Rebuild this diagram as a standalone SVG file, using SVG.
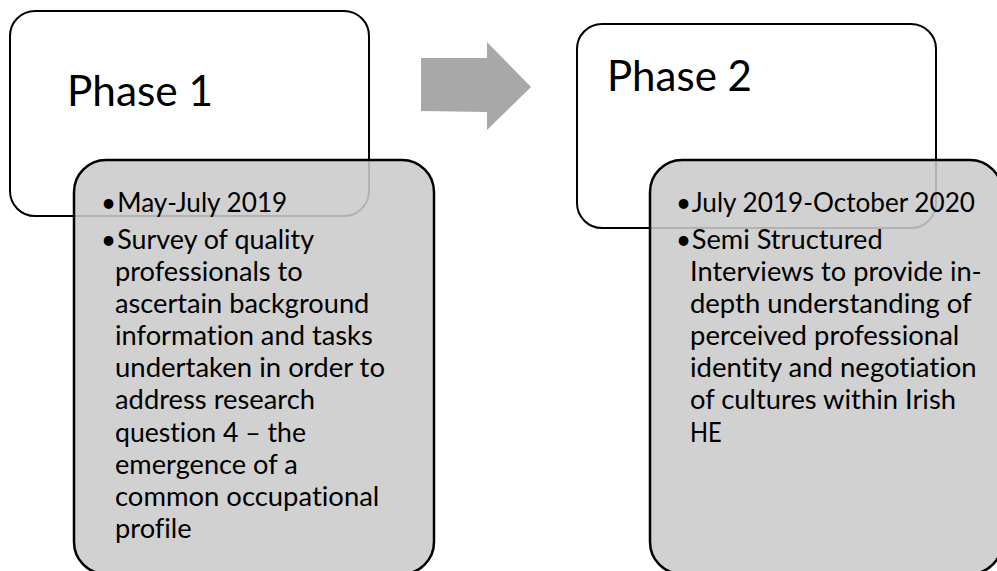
<svg xmlns="http://www.w3.org/2000/svg" width="997" height="571" viewBox="0 0 997 571">
<style>
.title{font-family:Lato,"Open Sans","Liberation Sans",sans-serif;font-size:42px;fill:#000;font-variant-ligatures:none}
.body{font-family:Lato,"Open Sans","Liberation Sans",sans-serif;font-size:26px;fill:#000;font-variant-ligatures:none}
.head{fill:#fff;stroke:#000;stroke-width:2}
.detail{fill:#cbcbcb;fill-opacity:0.88;stroke:#000;stroke-width:2.5}
.arrow{fill:#a8a8a8}
</style>
<rect width="997" height="571" fill="#fff"/>
<g id="phase1">
<rect class="head" x="10" y="11" width="359" height="205" rx="25" ry="25"/>
<text class="title" x="67" y="106" textLength="146" lengthAdjust="spacingAndGlyphs">Phase 1</text>
</g>
<g id="phase1-details">
<rect class="detail" x="74" y="160" width="360" height="414" rx="32" ry="32"/>
<text class="body" x="101" y="211.7">•</text>
<text class="body" x="117.3" y="211.7" textLength="170" lengthAdjust="spacingAndGlyphs">May-July 2019</text>
<text class="body" x="101" y="249.3">•</text>
<text class="body" x="117.3" y="249.3" textLength="196.7" lengthAdjust="spacingAndGlyphs">Survey of quality</text>
<text class="body" x="115" y="280.5" textLength="187.7" lengthAdjust="spacingAndGlyphs">professionals to</text>
<text class="body" x="115" y="312.7" textLength="254.3" lengthAdjust="spacingAndGlyphs">ascertain background</text>
<text class="body" x="115" y="345" textLength="257.7" lengthAdjust="spacingAndGlyphs">information and tasks</text>
<text class="body" x="115" y="377.3" textLength="270" lengthAdjust="spacingAndGlyphs">undertaken in order to</text>
<text class="body" x="115" y="409.3" textLength="200" lengthAdjust="spacingAndGlyphs">address research</text>
<text class="body" x="115" y="441.7" textLength="191" lengthAdjust="spacingAndGlyphs">question 4 – the</text>
<text class="body" x="115" y="474" textLength="182.7" lengthAdjust="spacingAndGlyphs">emergence of a</text>
<text class="body" x="115" y="506" textLength="264.3" lengthAdjust="spacingAndGlyphs">common occupational</text>
<text class="body" x="115" y="538.3" textLength="76.7" lengthAdjust="spacingAndGlyphs">profile</text>
</g>
<g id="phase2">
<rect class="head" x="577" y="24" width="359" height="204" rx="25" ry="25"/>
<text class="title" x="607" y="91" textLength="145" lengthAdjust="spacingAndGlyphs">Phase 2</text>
</g>
<g id="phase2-details">
<rect class="detail" x="650" y="160" width="352" height="414" rx="32" ry="32"/>
<text class="body" x="676" y="211.7">•</text>
<text class="body" x="691.7" y="211.7" textLength="283.3" lengthAdjust="spacingAndGlyphs">July 2019-October 2020</text>
<text class="body" x="676" y="249.3">•</text>
<text class="body" x="691.7" y="249.3" textLength="191" lengthAdjust="spacingAndGlyphs">Semi Structured</text>
<text class="body" x="690" y="280.5" textLength="291.7" lengthAdjust="spacingAndGlyphs">Interviews to provide in-</text>
<text class="body" x="690" y="312.7" textLength="281.7" lengthAdjust="spacingAndGlyphs">depth understanding of</text>
<text class="body" x="690" y="345" textLength="269.3" lengthAdjust="spacingAndGlyphs">perceived professional</text>
<text class="body" x="690" y="377.3" textLength="286.7" lengthAdjust="spacingAndGlyphs">identity and negotiation</text>
<text class="body" x="690" y="409.3" textLength="266" lengthAdjust="spacingAndGlyphs">of cultures within Irish</text>
<text class="body" x="690" y="441.7" textLength="31.7" lengthAdjust="spacingAndGlyphs">HE</text>
</g>
<g id="connectors">
<polygon class="arrow" points="421,58 487,58 487,42 531,87 487,130 487,112 421,111"/>
</g>
</svg>
